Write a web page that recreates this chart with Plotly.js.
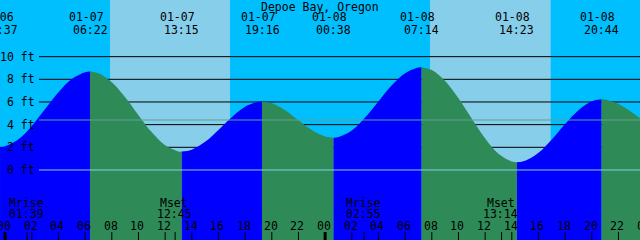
<!DOCTYPE html>
<html><head><meta charset="utf-8">
<script src="https://cdn.plot.ly/plotly-3.0.1.min.js"></script>
<style>html,body{margin:0;padding:0;background:#00BFFF;overflow:hidden;} #chart{width:640px;height:240px;}</style>
</head><body><div id="chart"></div>
<script>
// ---- data ----
const stationName = 'Depoe Bay, Oregon';
const tideTimes = ['01-06 23:37','01-07 06:22','01-07 13:15','01-07 19:16','01-08 00:38','01-08 07:14','01-08 14:23','01-08 20:44'];
const tideHeights = [2.05, 8.68, 1.62, 6.03, 2.85, 9.06, 0.68, 6.24];
// hourly readings of the tide curve (hours after 01-07 00:00), feet
const readHours = [0,1,2,3,4,5,6,7,8,9,10,11,12,13,14,15,16,17,18,19,20,21,22,23,24,25,26,27,28,29,30,31,32,33,34,35,36,37,38,39,40,41,42,43,44,45,46,47,48];
const readHeights = [2.10,2.71,3.89,5.38,6.86,8.03,8.63,8.53,7.74,6.42,4.84,3.32,2.18,1.64,1.79,2.48,3.53,4.66,5.57,6.01,5.89,5.28,4.39,3.52,2.96,2.90,3.48,4.62,6.05,7.47,8.54,9.04,8.82,7.86,6.33,4.52,2.78,1.43,0.74,0.81,1.52,2.70,4.06,5.28,6.06,6.22,5.82,5.10,4.20];
const moonEvents = ['Mrise','Mset','Mrise','Mset'];
const moonTimes = ['01-07 01:39','01-07 12:45','01-08 02:55','01-08 13:14'];
const sunriseTimes = ['01-07 07:52','01-08 07:52'];
const sunsetTimes = ['01-07 16:52','01-08 16:55'];
const depthLines = [2,4,6,8,10];
const depthLabels = [0,2,4,6,8,10];
const datumLevel = 0;
const meanLevel = 4.41;
const hourTicks = [0,2,4,6,8,10,12,14,16,18,20,22,24,26,28,30,32,34,36,38,40,42,44,46,48];
const viewStart = '01-06 23:37';
const viewHours = 48;

// ---- helpers ----
function hrs(s){const p=s.split(' ');const day=+p[0].split('-')[1];const hm=p[1].split(':').map(Number);return (day-7)*24+hm[0]+hm[1]/60;}
const FONT = {family:'DejaVu Sans Mono, monospace', size:11.5, color:'#000'};
const W=640, H=240;
const xStart = hrs(viewStart)-0.002, xEnd = xStart+viewHours;
const yBot = -6.18, yTop = 15.0;
const py = p => 1 - p/H;

const RISE='#0000FF', FALL='#2E8B57', NIGHT='#00BFFF', DAY='#87CEEB';

// ---- traces: tide curve split at each high/low ----
const ext = tideTimes.map((s,i)=>({t:hrs(s),h:tideHeights[i]}));
const traces=[];
for(let k=0;k<ext.length;k++){
  const a=ext[k];
  const last = k===ext.length-1;
  const bT = last ? Infinity : ext[k+1].t;
  const xs=[a.t], ys=[a.h];
  readHours.forEach((t,i)=>{ if(t>a.t && t<bT){xs.push(t);ys.push(readHeights[i]);} });
  if(!last){xs.push(ext[k+1].t);ys.push(ext[k+1].h);}
  const rising = ys[ys.length-1] > ys[0];
  traces.push({x:[xs[0],xs[xs.length-1]],y:[yBot,yBot],mode:'lines',line:{width:0},hoverinfo:'skip',showlegend:false});
  traces.push({x:xs,y:ys,mode:'lines',fill:'tonexty',fillcolor:rising?RISE:FALL,
    line:{width:0,shape:'spline',smoothing:1,color:rising?RISE:FALL},hoverinfo:'skip',showlegend:false});
}

// ---- shapes ----
const shapes=[];
sunriseTimes.forEach((s,i)=>shapes.push({type:'rect',layer:'below',xref:'x',yref:'paper',x0:hrs(s),x1:hrs(sunsetTimes[i]),y0:0,y1:1,fillcolor:DAY,line:{width:0}}));
depthLines.forEach(v=>shapes.push({type:'line',layer:'below',xref:'paper',yref:'y',x0:39/W,x1:1,y0:v,y1:v,line:{color:'#000',width:1}}));
shapes.push({type:'line',layer:'above',xref:'paper',yref:'y',x0:39/W,x1:1,y0:datumLevel,y1:datumLevel,line:{color:'#87CEEB',width:1}});
shapes.push({type:'line',layer:'above',xref:'paper',yref:'y',x0:39/W,x1:1,y0:meanLevel,y1:meanLevel,line:{color:'#5FA090',width:1}});
hourTicks.forEach(t=>{ if(t>xStart && t<xEnd){
  const mid = t%24===0;
  shapes.push({type:'line',layer:'above',xref:'x',yref:'paper',x0:t,x1:t,y0:0,y1:8/H,line:{color:'#000',width:mid?3:1}});
}});
moonTimes.forEach(s=>shapes.push({type:'line',layer:'above',xref:'x',yref:'paper',x0:hrs(s),x1:hrs(s),y0:0,y1:8/H,line:{color:'#000',width:1}}));

// ---- annotations ----
const ann=[];
const A=(o)=>ann.push(Object.assign({showarrow:false,font:FONT,borderpad:0},o));
A({xref:'paper',yref:'paper',x:0.5,y:py(6.5),xanchor:'center',yanchor:'middle',text:stationName});
tideTimes.forEach(s=>{
  const p=s.split(' ');
  A({xref:'x',yref:'paper',x:hrs(s),y:py(17.5),xanchor:'center',yanchor:'middle',xshift:-4,text:p[0]});
  A({xref:'x',yref:'paper',x:hrs(s),y:py(29.5),xanchor:'center',yanchor:'middle',text:p[1]});
});
moonTimes.forEach((s,i)=>{
  A({xref:'x',yref:'paper',x:hrs(s),y:py(202.5),xanchor:'center',yanchor:'middle',xshift:-1,text:moonEvents[i]});
  A({xref:'x',yref:'paper',x:hrs(s),y:py(213.5),xanchor:'center',yanchor:'middle',xshift:-1,text:s.split(' ')[1]});
});
hourTicks.forEach(t=>{
  A({xref:'paper',yref:'paper',x:(t-xStart)/viewHours,y:py(226),xanchor:'center',yanchor:'middle',xshift:-1,text:String(t%24).padStart(2,'0')});
});
depthLabels.forEach(v=>A({xref:'paper',yref:'y',x:36/W,y:v,xanchor:'right',yanchor:'middle',text:v+' ft'}));

const layout={width:W,height:H,margin:{l:0,r:0,t:0,b:0,pad:0},
  paper_bgcolor:NIGHT,plot_bgcolor:NIGHT,showlegend:false,
  xaxis:{range:[xStart,xEnd],visible:false,fixedrange:true},
  yaxis:{range:[yBot,yTop],visible:false,fixedrange:true},
  shapes:shapes,annotations:ann};
Plotly.newPlot('chart',traces,layout,{staticPlot:true,displayModeBar:false});
</script></body></html>
